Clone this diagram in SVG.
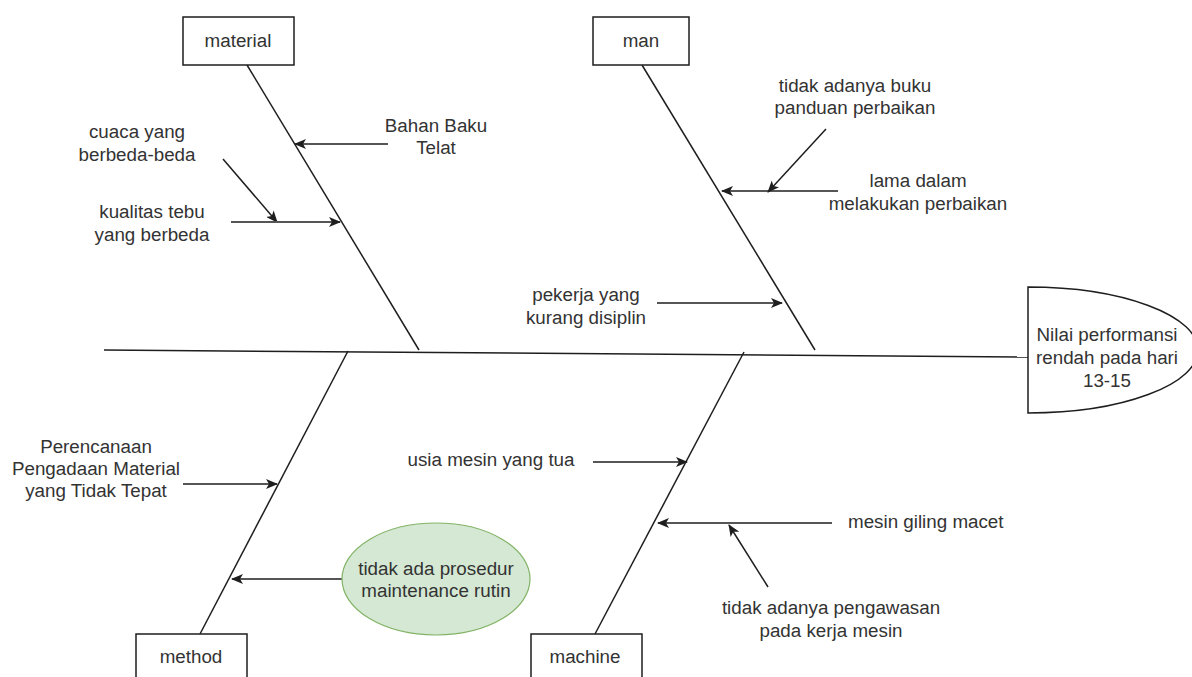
<svg xmlns="http://www.w3.org/2000/svg" width="1192" height="677" viewBox="0 0 1192 677">
<style>
.ln{stroke:#1e1e1e;stroke-width:1.5;fill:none}
.ar{stroke:#1e1e1e;stroke-width:1.5;fill:none;marker-end:url(#arr)}
.bx{fill:#ffffff;stroke:#1e1e1e;stroke-width:1.5}
.t{font-family:"Liberation Sans",Arial,sans-serif;font-size:18.8px;fill:#333333;text-anchor:middle}
</style>
<defs>
<marker id="arr" viewBox="0 0 12 10" refX="11" refY="5" markerWidth="12" markerHeight="10" orient="auto" markerUnits="userSpaceOnUse">
<path d="M0,0 L12,5 L0,10 L3,5 z" fill="#1e1e1e"/>
</marker>
</defs>
<rect width="1192" height="677" fill="#ffffff"/>
<g id="connectors">
<line class="ln" x1="104" y1="350" x2="1028" y2="357"/>
<line class="ln" x1="247" y1="65" x2="419" y2="350"/>
<line class="ln" x1="642" y1="65" x2="815" y2="350"/>
<line class="ln" x1="200" y1="634" x2="348" y2="351"/>
<line class="ln" x1="595" y1="634" x2="744" y2="352"/>
<line class="ar" x1="388" y1="144" x2="295" y2="144"/>
<line class="ar" x1="223" y1="159" x2="277" y2="222"/>
<line class="ar" x1="231" y1="222" x2="340" y2="222" style="stroke:#555;stroke-width:2"/>
<line class="ar" x1="826" y1="129" x2="768" y2="192"/>
<line class="ar" x1="838" y1="191" x2="722" y2="191"/>
<line class="ar" x1="657" y1="303" x2="782" y2="303"/>
<line class="ar" x1="183" y1="484" x2="277" y2="484"/>
<line class="ar" x1="357" y1="579" x2="232" y2="579"/>
<line class="ar" x1="593" y1="462" x2="687" y2="462"/>
<line class="ar" x1="832" y1="523" x2="658" y2="523"/>
<line class="ar" x1="768" y1="587" x2="729" y2="525"/>
</g>
<g id="head">
<path class="bx" d="M1028,287 A170,63 0 0 1 1028,413 Z"/>
<text class="t" x="1107" y="341">Nilai performansi</text>
<text class="t" x="1107" y="364">rendah pada hari</text>
<text class="t" x="1107" y="387">13-15</text>
</g>
<g id="material">
<rect class="bx" x="183" y="17" width="111" height="48"/>
<text class="t" x="238" y="47">material</text>
</g>
<g id="man">
<rect class="bx" x="593" y="17" width="96" height="48"/>
<text class="t" x="641" y="47">man</text>
</g>
<g id="method">
<rect class="bx" x="136" y="634" width="111" height="48"/>
<text class="t" x="191" y="663">method</text>
</g>
<g id="machine">
<rect class="bx" x="531" y="634" width="111" height="48"/>
<text class="t" x="585" y="663">machine</text>
</g>
<g id="bahan-baku">
<text class="t" x="436" y="132">Bahan Baku</text>
<text class="t" x="436" y="154">Telat</text>
</g>
<g id="cuaca">
<text class="t" x="137" y="138">cuaca yang</text>
<text class="t" x="137" y="161">berbeda-beda</text>
</g>
<g id="kualitas">
<text class="t" x="152" y="218">kualitas tebu</text>
<text class="t" x="152" y="241">yang berbeda</text>
</g>
<g id="buku">
<text class="t" x="855" y="92">tidak adanya buku</text>
<text class="t" x="855" y="114">panduan perbaikan</text>
</g>
<g id="lama">
<text class="t" x="918" y="187">lama dalam</text>
<text class="t" x="918" y="210">melakukan perbaikan</text>
</g>
<g id="pekerja">
<text class="t" x="586" y="301">pekerja yang</text>
<text class="t" x="586" y="324">kurang disiplin</text>
</g>
<g id="perencanaan">
<text class="t" x="96" y="453">Perencanaan</text>
<text class="t" x="96" y="475">Pengadaan Material</text>
<text class="t" x="96" y="497">yang Tidak Tepat</text>
</g>
<g id="prosedur">
<ellipse cx="436" cy="579" rx="94" ry="56" fill="#d5e8d4" stroke="#82b366" stroke-width="1.2"/>
<text class="t" x="436" y="575">tidak ada prosedur</text>
<text class="t" x="436" y="597">maintenance rutin</text>
</g>
<g id="usia">
<text class="t" x="491" y="466">usia mesin yang tua</text>
</g>
<g id="giling">
<text class="t" x="848" y="528" style="text-anchor:start">mesin giling macet</text>
</g>
<g id="pengawasan">
<text class="t" x="831" y="614">tidak adanya pengawasan</text>
<text class="t" x="831" y="637">pada kerja mesin</text>
</g>
</svg>
